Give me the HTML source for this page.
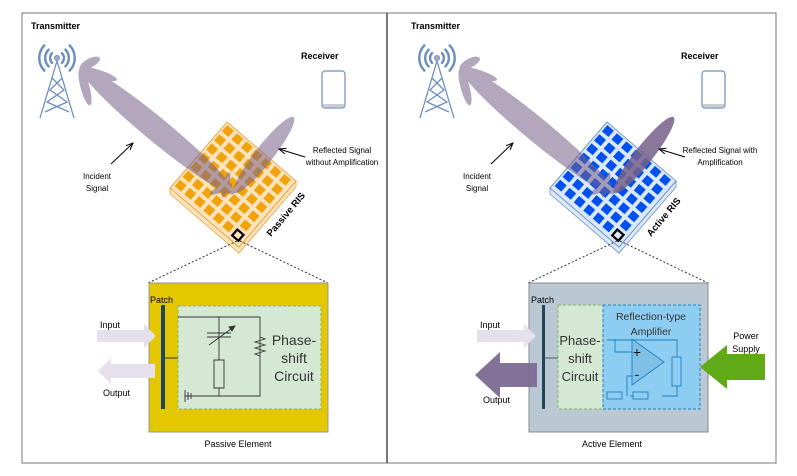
<!DOCTYPE html>
<html><head><meta charset="utf-8"><style>
body{margin:0;background:#fff}
svg{display:block;font-family:"Liberation Sans",Arial,sans-serif}
</style></head><body>
<svg id="s" width="797" height="476" viewBox="0 0 797 476" xmlns="http://www.w3.org/2000/svg">
<rect x="22" y="13" width="754" height="450" fill="#fff" stroke="#777" stroke-width="1"/>
<line x1="387" y1="13" x2="387" y2="463" stroke="#222" stroke-width="1.2"/>
<defs>
<marker id="ah" markerWidth="8" markerHeight="8" refX="7" refY="4" orient="auto" markerUnits="userSpaceOnUse"><path d="M0,1 L7,4 L0,7" fill="none" stroke="#000" stroke-width="1"/></marker>
</defs>
<g id="L"></g>
<g id="R"></g>

<!-- Passive element box -->
<line x1="237" y1="241" x2="148" y2="283" stroke="#333" stroke-dasharray="2,2"/>
<line x1="240" y1="241" x2="328" y2="283" stroke="#333" stroke-dasharray="2,2"/>
<rect x="149" y="283" width="179" height="149" fill="#e3c800" stroke="#999"/>
<rect x="178" y="306" width="143" height="103" fill="#d5e8d4" stroke="#82b366" stroke-dasharray="3,2"/>
<rect x="161" y="305" width="4" height="104" fill="#23445d"/>
<text x="150" y="303" font-size="9">Patch</text>
<g stroke="#333" stroke-width="0.9" fill="none">
<path d="M165,358 H178 M178,317 H260 V396 H185 M219,317 V360 M214,360 h10 v28 h-10 z M219,388 V396"/>
<path d="M207,333 H231 M207,337 H231"/>
<path d="M209,345 L235,326"/><path d="M235,326 l-6,1 l3,4 z" fill="#333"/>
<path d="M260,337 l5,2 l-10,3 l10,3 l-10,3 l10,3 l-10,3 l5,2"/>
<path d="M185,390 V402 M188,392 V400 M191,393 V399 M185,396 H193"/>
</g>
<text font-size="14" fill="#333" text-anchor="middle"><tspan x="294" y="345">Phase-</tspan><tspan x="294" y="363">shift</tspan><tspan x="294" y="381">Circuit</tspan></text>
<path d="M97,330 H144 V324 L156,336 L144,348 V342 H97 Z" fill="#e6e0ec"/>
<path d="M155,364 H111 V358 L98,371 L111,384 V378 H155 Z" fill="#e6e0ec"/>
<text x="100" y="328" font-size="9">Input</text>
<text x="103" y="396" font-size="9">Output</text>
<text x="238" y="447" font-size="9" text-anchor="middle">Passive Element</text>

<!-- Active element box -->
<line x1="617" y1="241" x2="528" y2="283" stroke="#333" stroke-dasharray="2,2"/>
<line x1="620" y1="241" x2="708" y2="283" stroke="#333" stroke-dasharray="2,2"/>
<rect x="529" y="283" width="179" height="149" fill="#bac8d3" stroke="#888"/>
<rect x="558" y="305" width="45" height="104" fill="#d5e8d4" stroke="#82b366" stroke-dasharray="3,2"/>
<rect x="603" y="305" width="97" height="104" fill="#8ecdf2" stroke="#1f7fbf" stroke-dasharray="3,2"/>
<rect x="542" y="305" width="3" height="104" fill="#23445d"/>
<line x1="545" y1="358" x2="558" y2="358" stroke="#555"/>
<text x="531" y="303" font-size="9">Patch</text>
<text font-size="13" fill="#333" text-anchor="middle"><tspan x="580" y="345">Phase-</tspan><tspan x="580" y="363">shift</tspan><tspan x="580" y="381">Circuit</tspan></text>
<text font-size="10.5" fill="#333" text-anchor="middle"><tspan x="651" y="320">Reflection-type</tspan><tspan x="651" y="335">Amplifier</tspan></text>
<g stroke="#1f7fbf" stroke-width="0.9">
<path d="M632,339 L664,362 L632,385 Z" fill="#7ec0e6"/>
<path d="M615,339 V352 H632 M607,340 H677 V358 M677,386 V396 H662 M645,396 H630 M615,396 H607 M627,396 V376 H632" fill="none"/>
<rect x="672" y="357" width="9" height="29" fill="#8ecdf2"/>
<rect x="607" y="392" width="15" height="7" fill="#8ecdf2"/>
<rect x="633" y="392" width="15" height="7" fill="#8ecdf2"/>
</g>
<text x="637" y="357" font-size="14" fill="#111" text-anchor="middle">+</text>
<text x="637" y="379" font-size="14" fill="#111" text-anchor="middle">-</text>
<path d="M477,330 H524 V324 L536,336 L524,348 V342 H477 Z" fill="#e6e0ec"/>
<path d="M537,363 H500 V352 L475,375 L500,398 V387 H537 Z" fill="#7c6a92" opacity="0.95"/>
<path d="M765,354 H727 V345 L700,367 L727,389 V380 H765 Z" fill="#60a917"/>
<text x="480" y="328" font-size="9">Input</text>
<text x="483" y="403" font-size="9">Output</text>
<text font-size="9" text-anchor="middle"><tspan x="746" y="339">Power</tspan><tspan x="746" y="352">Supply</tspan></text>
<text x="612" y="447" font-size="9" text-anchor="middle">Active Element</text>
</svg>
<script>
function panel(id,dx,o){
 var g=document.getElementById(id),h='';
 h+='<text x="'+(31+dx)+'" y="29" font-size="9" font-weight="bold">Transmitter</text>';
 h+='<text x="'+(301+dx)+'" y="59" font-size="9" font-weight="bold">Receiver</text>';
 h+='<rect x="'+(322+dx)+'" y="71" width="23" height="37" rx="3" fill="#fff" stroke="#6c8ebf" stroke-width="1.2"/><rect x="'+(323+dx)+'" y="104" width="21" height="3" fill="#ccc"/>';
 var cx=57+dx,cy=58,t='<g stroke="#6c8ebf" stroke-width="2.4" fill="none" stroke-linecap="round">';
 [7,12,18].forEach(function(r){t+='<path d="M'+(cx-r*0.7)+','+(cy-r*0.7)+' A'+r+','+r+' 0 0 0 '+(cx-r*0.7)+','+(cy+r*0.7)+'"/><path d="M'+(cx+r*0.7)+','+(cy-r*0.7)+' A'+r+','+r+' 0 0 1 '+(cx+r*0.7)+','+(cy+r*0.7)+'"/>';});
 t+='</g><g stroke="#6c8ebf" stroke-width="1.3" fill="none"><path d="M'+cx+',61 L'+(cx-17)+',118 M'+cx+',61 L'+(cx+17)+',118 M'+(cx-5)+',78 L'+(cx+7)+',90 L'+(cx-10)+',102 L'+(cx+12)+',112 M'+(cx+5)+',78 L'+(cx-7)+',90 L'+(cx+10)+',102 L'+(cx-12)+',112"/></g><circle cx="'+cx+'" cy="'+cy+'" r="2.5" fill="#aab" stroke="#6c8ebf"/>';
 h+=t;
 // RIS
 var tx=227+dx;
 h+='<polygon points="'+(170+dx)+',188 '+(239+dx)+',247 '+(296+dx)+',181 '+(296+dx)+',187 '+(239+dx)+',253 '+(170+dx)+',194" fill="'+o.face+'" stroke="'+o.edge+'" stroke-width="0.8"/>';
 h+='<g transform="matrix(0.69,0.59,-0.57,0.66,'+tx+',122)"><rect x="0" y="0" width="100" height="100" fill="'+o.face+'" stroke="'+o.edge+'" stroke-width="1"/>';
 for(var i=0;i<7;i++)for(var j=0;j<7;j++){ if(i==6&&j==6)continue; h+='<rect x="'+(2.5+i*13.8)+'" y="'+(2.5+j*13.8)+'" width="9.5" height="9.5" fill="'+o.sq+'"/>';}
 h+='<rect x="86" y="86" width="9" height="9" fill="none" stroke="#000" stroke-width="2.5"/></g>';
 // beams
 h+='<g fill="'+o.beam+'" opacity="0.55"><ellipse cx="'+(157+dx)+'" cy="'+(130)+'" rx="100" ry="12" transform="rotate(39.5 '+(157+dx)+' 130)"/>';
 h+='<ellipse cx="'+(99+dx)+'" cy="74" rx="19" ry="4" transform="rotate(18 '+(99+dx)+' 74)"/><ellipse cx="'+(90+dx)+'" cy="63" rx="11" ry="4.5" transform="rotate(-27 '+(90+dx)+' 63)"/><ellipse cx="'+(85+dx)+'" cy="87" rx="19" ry="4.5" transform="rotate(75 '+(85+dx)+' 87)"/>';
 h+='<ellipse cx="'+(226+dx)+'" cy="185" rx="13" ry="3" transform="rotate(-75 '+(226+dx)+' 185)"/><ellipse cx="'+(221+dx)+'" cy="189" rx="12" ry="3" transform="rotate(-25 '+(221+dx)+' 189)"/></g>';
 h+='<ellipse cx="'+(264+dx)+'" cy="155" rx="48" ry="9" transform="rotate(-52 '+(264+dx)+' 155)" fill="'+o.beam+'" opacity="'+o.rop+'"/>';
 // labels
 h+='<text font-size="8" text-anchor="middle"><tspan x="'+(97+dx)+'" y="179">Incident</tspan><tspan x="'+(97+dx)+'" y="191">Signal</tspan></text>';
 h+='<line x1="'+(111+dx)+'" y1="164" x2="'+(133+dx)+'" y2="143" stroke="#000" marker-end="url(#ah)"/>';
 h+='<line x1="'+(305+dx)+'" y1="157" x2="'+(279+dx)+'" y2="149" stroke="#000" marker-end="url(#ah)"/>';
 h+='<text font-size="8" text-anchor="middle"><tspan x="'+o.rx+'" y="153">'+o.r1+'</tspan><tspan x="'+o.rx+'" y="165">'+o.r2+'</tspan></text>';
 h+='<text x="0" y="0" font-size="9.5" font-weight="bold" transform="translate('+(271+dx)+',237) rotate(-50)">'+o.name+'</text>';
 g.innerHTML=h;
}
panel('L',0,{face:'#fde3bd',edge:'#e6a23a',sq:'#f0a30a',beam:'#76608a',rop:0.55,rx:342,r1:'Reflected Signal',r2:'without Amplification',name:'Passive RIS'});
panel('R',380,{face:'#dae8fc',edge:'#6c8ebf',sq:'#0050ef',beam:'#76608a',rop:0.85,rx:720,r1:'Reflected Signal with',r2:'Amplification',name:'Active RIS'});
</script>
</body></html>
